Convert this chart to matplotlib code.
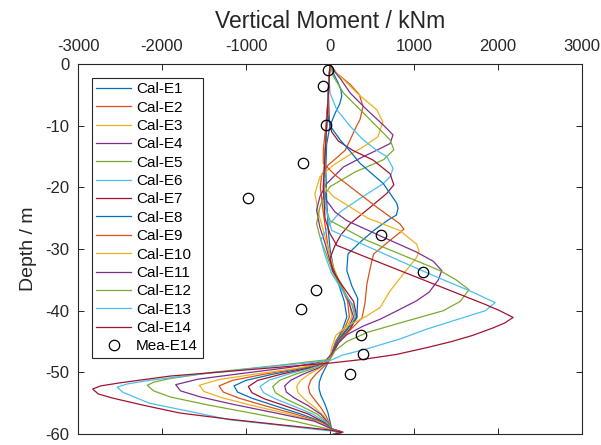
import numpy as np
import matplotlib
matplotlib.use('Agg')
import matplotlib.pyplot as plt

plt.rcParams['font.family'] = ['Liberation Sans', 'DejaVu Sans']
plt.rcParams['axes.unicode_minus'] = False

# Calculated vertical moment profiles (depth in m, moment in kNm)
d_e1 = [0, -1.5, -3, -4.2, -5.2, -6.5, -8, -10, -13, -17, -22, -27, -30, -33, -36, -38.5, -41, -43, -45, -47, -48.3, -49.4, -50.5, -51.6, -52.6, -53.7, -55, -56.5, -58, -59.2, -59.7, -60]
m_e1 = [0, 40, 95, 130, 140, 115, 60, 0, -40, -50, -40, -20, 0, 40, 110, 170, 200, 150, 70, 20, -20, -60, -100, -128, -131, -110, -65, -25, 0, 20, 110, 40]

d_e2 = [0, -1.5, -3.3, -5, -6.9, -9, -10.5, -12.3, -14, -15.2, -16.4, -18, -20, -23, -26, -30, -33, -36, -38.5, -41, -43, -45, -47, -48.3, -49.3, -50.3, -51.3, -52.4, -53.4, -54.5, -55.7, -57, -58.2, -59.2, -59.7, -60]
m_e2 = [0, 80, 240, 350, 393, 357, 300, 240, 180, 80, -24, -100, -115, -90, -60, -20, 40, 130, 210, 230, 170, 70, 15, -20, -90, -170, -230, -258, -240, -180, -110, -50, -10, 20, 120, 50]

d_e3 = [0, -1, -2.5, -4.7, -7.4, -9.4, -11.8, -13.4, -15, -16.4, -18.3, -21, -24, -27, -30, -33, -36, -38.5, -41, -43, -45, -47, -48.3, -49.3, -50.3, -51.3, -52.3, -53.3, -54.4, -55.6, -57, -58.2, -59.2, -59.7, -60]
m_e3 = [0, 40, 160, 320, 555, 630, 570, 400, 200, 40, -120, -180, -140, -80, -20, 40, 140, 230, 260, 190, 80, 20, -25, -120, -250, -350, -397, -380, -300, -190, -80, -15, 20, 130, 50]

d_e4 = [0, -1, -2.5, -4.7, -7.4, -9.9, -11.5, -12.9, -14, -15.2, -16.7, -19.4, -21.5, -23.7, -26.5, -29, -32, -35, -38, -41, -43, -45, -47, -48.3, -49.3, -50.3, -51.3, -52.2, -53.2, -54.2, -55.4, -56.8, -58.2, -59.2, -59.7, -60]
m_e4 = [0, 40, 130, 240, 437, 635, 750, 715, 555, 370, 160, -40, -120, -160, -120, -60, 0, 90, 210, 280, 210, 90, 25, -25, -140, -320, -470, -540, -520, -420, -260, -110, -20, 20, 140, 50]

d_e5 = [0, -2, -4.7, -7.4, -10.1, -12.3, -13.9, -15.5, -17.5, -19.9, -21.5, -23.2, -25.9, -28.5, -31, -34, -37, -39, -41, -43, -45, -47, -48.3, -49.3, -50.3, -51.3, -52.3, -53.3, -54.3, -55.5, -56.8, -58.2, -59.2, -59.7, -60]
m_e5 = [0, 40, 160, 357, 555, 715, 760, 640, 300, 0, -80, -120, -160, -110, -40, 40, 170, 260, 300, 230, 100, 25, -25, -180, -410, -600, -682, -650, -530, -340, -150, -30, 20, 140, 50]

d_e6 = [0, -2.5, -4.7, -7.4, -10.1, -12.3, -14, -15, -16.9, -18.2, -19.4, -21.8, -24, -25.9, -28.5, -31, -34, -37, -39, -41, -43, -45, -47, -48.3, -49.3, -50.3, -51.3, -52.3, -53.3, -54.3, -55.5, -56.8, -58.2, -59.2, -59.7, -60]
m_e6 = [0, -10, 0, 80, 240, 395, 555, 675, 750, 720, 635, 357, 120, 0, -110, -60, 20, 160, 270, 310, 240, 110, 30, -25, -220, -500, -730, -833, -790, -650, -430, -200, -40, 20, 150, 50]

d_e7 = [0, -4, -9, -11, -12.5, -14, -15.6, -17.8, -19.6, -21, -23.7, -25.9, -27.7, -29.4, -31.5, -33.5, -36, -38.5, -41, -43, -45, -47, -48.3, -49.3, -50.3, -51.3, -52.3, -53.3, -54.3, -55.5, -56.8, -58.2, -59.2, -59.7, -60]
m_e7 = [0, -20, -10, 20, 100, 270, 515, 715, 760, 675, 437, 240, 130, 60, 0, 30, 150, 280, 320, 240, 110, 30, -25, -260, -580, -860, -972, -930, -780, -520, -250, -60, 20, 150, 50]

d_e8 = [0, -4, -8, -10, -12.3, -14, -16.1, -19.4, -22.6, -23.4, -24.5, -25.4, -27, -29, -30.8, -33.5, -36, -38, -41.2, -43, -45, -47, -48.3, -49.3, -50.3, -51.3, -52.2, -53.2, -54.2, -55.4, -56.7, -58.1, -59.2, -59.7, -60]
m_e8 = [0, -20, -30, 0, 120, 230, 357, 635, 795, 810, 790, 680, 520, 350, 214, 200, 260, 330, 320, 200, 80, 20, -25, -300, -680, -1000, -1143, -1100, -930, -660, -360, -80, 20, 150, 50]

d_e9 = [0, -5, -10, -14, -16.1, -18, -19.9, -23.2, -25.9, -26.8, -28.6, -30.8, -32.4, -35.6, -38.9, -41.2, -43, -45, -47, -48.3, -49.3, -50.3, -51.3, -52.2, -53.2, -54.2, -55.4, -56.7, -58.1, -59.2, -59.7, -60]
m_e9 = [0, -20, -50, -80, -80, 60, 240, 555, 830, 880, 715, 520, 490, 440, 415, 380, 250, 100, 20, -25, -340, -780, -1160, -1321, -1270, -1080, -780, -430, -100, 20, 150, 50]

d_e10 = [0, -5, -10, -15, -18, -20, -21.5, -23.2, -25, -27, -29.2, -30.3, -31.4, -34.1, -36.8, -39.5, -41, -42.5, -44, -46, -47.5, -48.5, -49.4, -50.3, -51.2, -52.1, -53.1, -54.1, -55.3, -56.6, -58, -59.1, -59.7, -60]
m_e10 = [0, -20, -40, -60, -80, -60, 40, 240, 450, 830, 1030, 1060, 1030, 870, 715, 595, 420, 200, 70, 20, 0, -80, -420, -900, -1330, -1556, -1500, -1290, -950, -540, -140, 10, 150, 50]

d_e11 = [0, -5, -10, -15, -20, -22, -24, -25.4, -28.1, -30.5, -32, -33.5, -35, -37, -38.4, -40, -41.4, -42.5, -43.9, -45.5, -47, -48.2, -49.2, -50.2, -51.1, -52, -53, -54, -55.2, -56.5, -57.9, -59.1, -59.7, -60]
m_e11 = [0, -20, -40, -60, -70, -50, 60, 200, 635, 1030, 1230, 1330, 1290, 1180, 1030, 800, 595, 395, 200, 80, 20, -60, -480, -1060, -1570, -1837, -1780, -1540, -1150, -680, -190, 10, 150, 50]

d_e12 = [0, -5, -10, -15, -20, -23, -25.4, -28.6, -30.8, -33.5, -35, -36.6, -38.5, -40, -42, -43.5, -45, -46.5, -47.9, -49, -50, -51, -51.6, -52.1, -53, -54, -55.3, -56.7, -58, -59.1, -59.7, -60]
m_e12 = [0, -20, -40, -60, -70, -60, 0, 437, 830, 1310, 1500, 1655, 1550, 1350, 830, 450, 200, 60, 0, -700, -1400, -1900, -2100, -2175, -2100, -1900, -1450, -900, -400, -50, 140, 50]

d_e13 = [0, -5, -10, -15, -20, -24, -27, -29, -31, -33, -35, -37, -38.7, -40, -41.5, -43, -44.6, -46.2, -47.2, -48.1, -49.2, -50.3, -51.3, -51.9, -52.4, -53.2, -54, -55, -56.4, -57.7, -58.5, -59.2, -59.7, -60]
m_e13 = [0, -20, -40, -60, -80, -40, 20, 350, 680, 1010, 1350, 1700, 1965, 1850, 1500, 1150, 830, 437, 150, 0, -800, -1550, -2150, -2420, -2532, -2470, -2330, -2150, -1650, -1190, -650, -200, 150, 50]

d_e14 = [0, -5, -10, -15, -20, -25, -27.5, -29.4, -31, -33, -35, -37, -39, -40, -41.1, -42, -42.8, -44, -45, -46, -47.1, -47.9, -48.5, -49.5, -50.6, -51.7, -52.2, -52.7, -53.5, -54.2, -55.4, -56.6, -57.6, -58.5, -59.3, -59.7, -60]
m_e14 = [0, -20, -40, -60, -80, -60, 0, 80, 370, 740, 1110, 1480, 1850, 2020, 2180, 2080, 1940, 1700, 1450, 1150, 790, 395, 0, -900, -1900, -2500, -2730, -2825, -2760, -2580, -2200, -1785, -1200, -595, -40, 150, 60]

# Measured moments for E14
mea_depth = [-1.0, -3.6, -9.9, -16.1, -21.8, -27.7, -33.8, -36.6, -39.7, -44.0, -47.1, -50.3]
mea_moment = [-27, -87, -48, -325, -980, 603, 1103, -167, -349, 365, 397, 238]

cal_depths = [d_e1, d_e2, d_e3, d_e4, d_e5, d_e6, d_e7, d_e8, d_e9, d_e10, d_e11, d_e12, d_e13, d_e14]
cal_moments = [m_e1, m_e2, m_e3, m_e4, m_e5, m_e6, m_e7, m_e8, m_e9, m_e10, m_e11, m_e12, m_e13, m_e14]
cal_labels = ['Cal-E%d' % (i + 1) for i in range(14)]

# MATLAB default line colour order
colors = ['#0072BD', '#D95319', '#EDB120', '#7E2F8E', '#77AC30', '#4DBEEE', '#A2142F']

fig = plt.figure(figsize=(6.01, 4.45), dpi=100)
ax = fig.add_axes([0.1298, 0.0247, 0.8386, 0.8315])

for i in range(14):
    ax.plot(cal_moments[i], cal_depths[i], '-', color=colors[i % 7], lw=0.9, label=cal_labels[i])

ax.plot(mea_moment, mea_depth, 'o', mfc='none', mec='black', mew=0.9, ms=7.5, label='Mea-E14')

ax.set_xlim(-3000, 3000)
ax.set_ylim(-60, 0)
ax.set_xticks(np.arange(-3000, 3001, 1000))
ax.set_yticks(np.arange(-60, 1, 10))

ax.xaxis.set_label_position('top')
ax.xaxis.tick_top()
ax.tick_params(axis='both', which='both', direction='in', top=True, bottom=True, left=True, right=True,
               length=4, width=0.7, colors='#262626', labelsize=12)
ax.tick_params(axis='x', pad=7)
ax.tick_params(axis='y', pad=6)
for s in ax.spines.values():
    s.set_color('#262626')
    s.set_linewidth(0.8)

ax.set_xlabel('Vertical Moment / kNm', fontsize=16.5, color='#262626', labelpad=8)
ax.set_ylabel('Depth / m', fontsize=14, color='#262626', labelpad=6)

leg = ax.legend(loc='upper left', fontsize=11, frameon=True, fancybox=False, framealpha=1,
                edgecolor='#262626', handlelength=2.3, handletextpad=0.3, labelspacing=0.285,
                borderpad=0.3, borderaxespad=0.9)
leg.get_frame().set_linewidth(0.8)

plt.savefig('out.png', dpi=100)
